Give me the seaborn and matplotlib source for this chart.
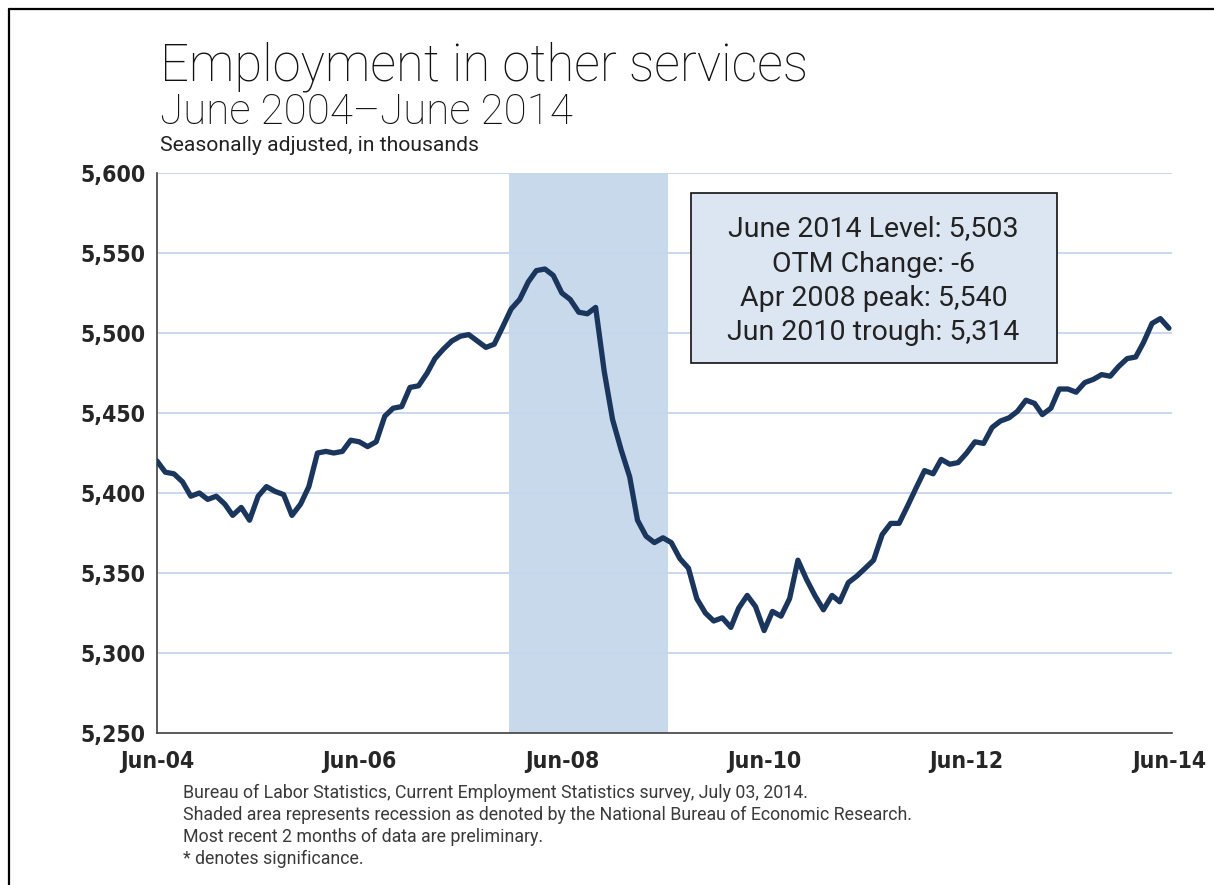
import numpy as np
import pandas as pd
import matplotlib
matplotlib.use("Agg")
import matplotlib.pyplot as plt
import matplotlib.dates as mdates
from matplotlib.patches import Rectangle
import seaborn as sns

# ---- data ----
start_month = "2004-06-01"
employment = [
    5420, 5413, 5412, 5407, 5398, 5400, 5396, 5398, 5393, 5386, 5391, 5383,
    5398, 5404, 5401, 5399, 5386, 5393, 5404, 5425, 5426, 5425, 5426, 5433,
    5432, 5429, 5432, 5448, 5453, 5454, 5466, 5467, 5475, 5484, 5490, 5495,
    5498, 5499, 5495, 5491, 5493, 5504, 5515, 5521, 5532, 5539, 5540, 5536,
    5525, 5521, 5513, 5512, 5516, 5476, 5446, 5427, 5410, 5383, 5373, 5369,
    5372, 5369, 5359, 5353, 5334, 5325, 5320, 5322, 5316, 5328, 5336, 5329,
    5314, 5326, 5323, 5334, 5358, 5346, 5336, 5327, 5336, 5332, 5344, 5348,
    5353, 5358, 5374, 5381, 5381, 5392, 5403, 5414, 5412, 5421, 5418, 5419,
    5425, 5432, 5431, 5441, 5445, 5447, 5451, 5458, 5456, 5449, 5453, 5465,
    5465, 5463, 5469, 5471, 5474, 5473, 5479, 5484, 5485, 5494, 5506, 5509,
    5503,
]
recession_start = "2007-12-01"
recession_end = "2009-06-01"
tick_labels = ["Jun-04", "Jun-06", "Jun-08", "Jun-10", "Jun-12", "Jun-14"]
tick_dates = ["2004-06-01", "2006-06-01", "2008-06-01", "2010-06-01", "2012-06-01", "2014-06-01"]
y_ticks = [5250, 5300, 5350, 5400, 5450, 5500, 5550, 5600]
info_lines = ["June 2014 Level: 5,503", "OTM Change: -6",
              "Apr 2008 peak: 5,540", "Jun 2010 trough: 5,314"]
title = "Employment in other services"
subtitle = "June 2004\u2013June 2014"
units = "Seasonally adjusted, in thousands"
notes = [
    "Bureau of Labor Statistics, Current Employment Statistics survey, July 03, 2014.",
    "Shaded area represents recession as denoted by the National Bureau of Economic Research.",
    "Most recent 2 months of data are preliminary.",
    "* denotes significance.",
]

dates = pd.date_range(start_month, periods=len(employment), freq="MS")
df = pd.DataFrame({"date": dates, "value": employment})

sns.set_style("white")
plt.rcParams["font.family"] = ["Roboto", "DejaVu Sans"]

W, H = 1214, 885
fig = plt.figure(figsize=(W / 100, H / 100), dpi=100)
ax = fig.add_axes([157 / W, 1 - 733 / H, (1172 - 157) / W, (733 - 173) / H])

# recession shading
rs = pd.Timestamp(recession_start) - pd.Timedelta(days=8)
re_ = pd.Timestamp(recession_end) + pd.Timedelta(days=18)
ax.axvspan(rs, re_, color="#c9d9ec", zorder=0, lw=0)

for v in y_ticks[1:]:
    ax.axhline(v, color="#c6d6ee", lw=1.3, zorder=1)

sns.lineplot(data=df, x="date", y="value", ax=ax, color="#1b365d", lw=3.8, zorder=3)

ax.set_ylim(5250, 5600)
ax.set_xlim(dates[0], dates[-1] + pd.Timedelta(days=11))
ax.set_yticks(y_ticks)
ax.set_yticklabels([f"{v:,}" for v in y_ticks])
ax.set_xticks([pd.Timestamp(d) for d in tick_dates])
ax.set_xticklabels(tick_labels)
ax.set_xlabel("")
ax.set_ylabel("")
for s in ["top", "right"]:
    ax.spines[s].set_visible(False)
for s in ["left", "bottom"]:
    ax.spines[s].set_color("#404040")
    ax.spines[s].set_linewidth(1.2)
ax.tick_params(axis="both", direction="out", length=5, width=1, color="#404040",
               labelsize=16.5)
ax.tick_params(axis="x", pad=7)
ax.tick_params(axis="y", pad=3)
for lab in ax.get_xticklabels() + ax.get_yticklabels():
    lab.set_fontweight("bold")
    lab.set_family(["DejaVu Sans"])
    lab.set_fontstretch("condensed")

# info box
box = Rectangle((0.526, 0.661), 0.361, 0.303, transform=ax.transAxes,
                facecolor="#dce6f2", edgecolor="#111111", lw=1.2, zorder=5)
ax.add_patch(box)
for txt, yy in zip(info_lines, [0.900, 0.836, 0.776, 0.716]):
    ax.text(0.706, yy, txt, transform=ax.transAxes, ha="center", va="center",
            fontsize=20.5, fontweight="normal", color="#222222", zorder=6)

# titles
fig.text(160 / W, 1 - 80 / H, title, fontsize=36.5, fontweight="light", color="#111111", va="baseline")
fig.text(160 / W, 1 - 124 / H, subtitle, fontsize=30.3, fontweight="light", color="#111111", va="baseline")
fig.text(160 / W, 1 - 151 / H, units, fontsize=15.2, fontweight="normal", color="#222222", va="baseline")

for i, n in enumerate(notes):
    fig.text(183 / W, 1 - (798 + 22 * i) / H, n, fontsize=12.75, fontweight="normal",
             color="#3a3a3a", va="baseline")

# frame around figure
fig.add_artist(plt.Line2D([9 / W, 9 / W], [0, 1 - 9 / H], transform=fig.transFigure, color="black", lw=1.6))
fig.add_artist(plt.Line2D([9 / W, 1], [1 - 9 / H, 1 - 9 / H], transform=fig.transFigure, color="black", lw=1.6))

fig.savefig("out.png", dpi=100)
